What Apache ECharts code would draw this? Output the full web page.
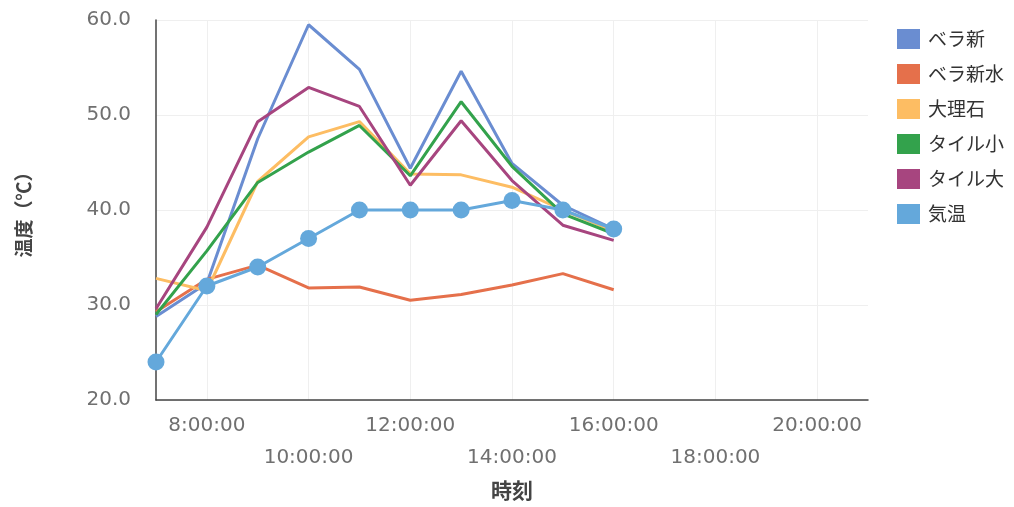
<!DOCTYPE html>
<html>
<head>
<meta charset="utf-8">
<script src="https://cdn.jsdelivr.net/npm/echarts@6/dist/echarts.min.js"></script>
<style>
  html, body { margin: 0; padding: 0; background: #fff; }
  #chart { width: 1014px; height: 507px; }
</style>
</head>
<body>
<div id="chart"></div>
<script>
// Measurement times (hourly)
const times = ['7:00:00', '8:00:00', '9:00:00', '10:00:00', '11:00:00', '12:00:00', '13:00:00', '14:00:00', '15:00:00', '16:00:00'];

// Surface temperatures (℃) per material
const beraShin    = [28.8, 32.3, 47.5, 59.5, 54.8, 44.4, 54.6, 44.9, 40.5, 38.0];
const beraShinSui = [29.3, 32.7, 34.2, 31.8, 31.9, 30.5, 31.1, 32.1, 33.3, 31.6];
const dairiseki   = [32.8, 31.5, 43.0, 47.7, 49.3, 43.8, 43.7, 42.4, 40.0, 37.8];
const tileSmall   = [29.0, 35.7, 42.9, 46.1, 48.9, 43.6, 51.4, 44.6, 39.6, 37.5];
const tileLarge   = [29.6, 38.2, 49.3, 52.9, 50.9, 42.6, 49.4, 43.1, 38.4, 36.8];
const kion        = [24.0, 32.0, 34.0, 37.0, 40.0, 40.0, 40.0, 41.0, 40.0, 38.0];

// x-axis tick labels (hours of the day)
const xTicks = [8, 10, 12, 14, 16, 18, 20];

const seriesNames = ['ベラ新', 'ベラ新水', '大理石', 'タイル小', 'タイル大', '気温'];
const seriesData = [beraShin, beraShinSui, dairiseki, tileSmall, tileLarge, kion];
const colors = ['#6a8dd1', '#e5704b', '#fdbd63', '#33a24c', '#a7457f', '#64a8db'];

function toHours(t) {
  const p = t.split(':').map(Number);
  return p[0] + p[1] / 60 + p[2] / 3600;
}
const xs = times.map(toHours);

const font = "'DejaVu Sans', sans-serif";
const cjk = "'Noto Sans CJK JP', 'Noto Sans', sans-serif";

const chart = echarts.init(document.getElementById('chart'));
chart.setOption({
  animation: false,
  backgroundColor: '#ffffff',
  color: colors,
  grid: { left: 156, right: 146, top: 20, bottom: 107 },
  legend: {
    orient: 'vertical',
    left: 892,
    top: 24,
    icon: 'rect',
    itemWidth: 23,
    itemHeight: 20,
    itemGap: 15,
    textStyle: { fontFamily: cjk, fontSize: 19, color: '#333', padding: [0, 0, 0, 3] },
    data: seriesNames
  },
  xAxis: {
    type: 'value',
    min: 7,
    max: 21,
    name: '時刻',
    nameLocation: 'middle',
    nameGap: 80,
    nameTextStyle: { fontFamily: cjk, fontSize: 21, fontWeight: 'bold', color: '#444' },
    axisLine: { show: true, lineStyle: { color: '#444', width: 1.5 } },
    axisTick: { show: false, customValues: xTicks },
    splitLine: { show: true, lineStyle: { color: '#efefef', width: 1 } },
    axisLabel: {
      customValues: xTicks,
      margin: 10,
      fontFamily: font,
      fontSize: 20,
      color: '#707070',
      lineHeight: 32,
      formatter: function (v) {
        const s = v + ':00:00';
        return (xTicks.indexOf(v) % 2 === 1) ? '\n' + s : s;
      }
    }
  },
  yAxis: {
    type: 'value',
    min: 20,
    max: 60,
    interval: 10,
    name: '温度（℃）',
    nameLocation: 'middle',
    nameGap: 123,
    nameTextStyle: { fontFamily: cjk, fontSize: 19, fontWeight: 'bold', color: '#444' },
    axisLine: { show: true, lineStyle: { color: '#444', width: 1.5 } },
    axisTick: { show: false },
    splitLine: { show: true, lineStyle: { color: '#efefef', width: 1 } },
    axisLabel: {
      margin: 25,
      fontFamily: font,
      fontSize: 20,
      color: '#707070',
      formatter: function (v) { return v.toFixed(1); }
    }
  },
  series: seriesNames.map(function (name, i) {
    const isKion = name === '気温';
    return {
      name: name,
      type: 'line',
      data: xs.map(function (x, j) { return [x, seriesData[i][j]]; }),
      showSymbol: isKion,
      symbol: 'circle',
      symbolSize: isKion ? 17 : 0,
      lineStyle: { width: 3, color: colors[i] },
      itemStyle: { color: colors[i] },
      z: isKion ? 3 : 2
    };
  })
});
</script>
</body>
</html>
